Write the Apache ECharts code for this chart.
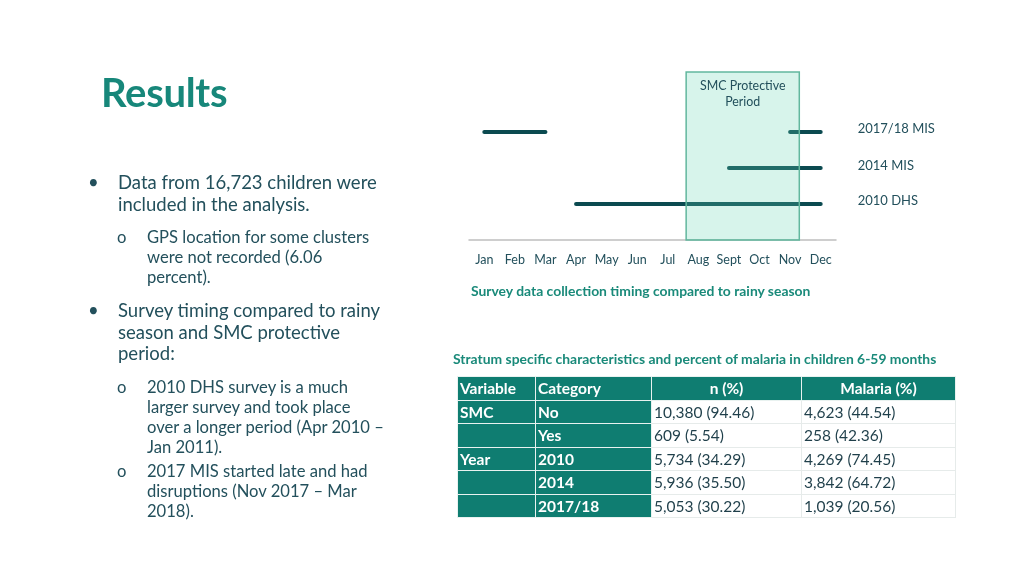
<!DOCTYPE html>
<html><head><meta charset="utf-8">
<script src="https://cdn.jsdelivr.net/npm/echarts@6/dist/echarts.min.js"></script>
<style>
html,body{margin:0;padding:0;background:#fff;}
#wrap{position:relative;width:1024px;height:576px;overflow:hidden;font-family:Lato,"Open Sans",sans-serif;}
#chart{position:absolute;left:0;top:0;width:1024px;height:576px;}
.t{position:absolute;white-space:nowrap;color:#23505c;}
#title{left:101px;top:68px;font-size:40px;font-weight:bold;color:#17877a;letter-spacing:-0.3px;}
.b1{font-size:18.5px;line-height:21.5px;}
.b2{font-size:16.6px;line-height:20px;}
.cap{font-size:13.9px;font-weight:bold;color:#1a8a7a;}
#tbl{position:absolute;left:457px;top:376px;border-collapse:collapse;font-size:15.5px;}
#tbl td{border:1.5px solid #e6ebea;padding:0 2px;height:22px;color:#1f3f4a;white-space:nowrap;box-sizing:border-box;}
#tbl tr{height:23.5px;}
#tbl td.k{background:#0f7d71;color:#fff;font-weight:bold;border-color:#e9f2f0;}
#tbl tr.h td{background:#0f7d71;color:#fff;font-weight:bold;border-color:#e9f2f0;}
#tbl tr.h td.c{text-align:center;}
</style></head>
<body><div id="wrap">
<div id="chart"></div>
<div id="title" class="t">Results</div>
<div id="text"></div>
<div class="t cap" style="left:471px;top:282px;">Survey data collection timing compared to rainy season</div>
<div class="t cap" style="left:453px;top:350px;">Stratum specific characteristics and percent of malaria in children 6-59 months</div>
<table id="tbl"></table>
</div>
<script>
// ---- data ----
const months = ['Jan','Feb','Mar','Apr','May','Jun','Jul','Aug','Sept','Oct','Nov','Dec'];
const surveyNames = ['2010 DHS','2014 MIS','2017/18 MIS'];
const surveyRow = [1, 2, 3];
const dhs2010Months = [4, 12];
const mis2014Months = [9, 12];
const mis2017PartA = [1, 3];
const mis2017PartB = [11, 12];
const smcPeriod = [7.6, 11.3];
const tableHeader = ['Variable','Category','n (%)','Malaria (%)'];
const tableVariable = ['SMC','','Year','',''];
const tableCategory = ['No','Yes','2010','2014','2017/18'];
const tableN = ['10,380 (94.46)','609 (5.54)','5,734 (34.29)','5,936 (35.50)','5,053 (30.22)'];
const tableMalaria = ['4,623 (44.54)','258 (42.36)','4,269 (74.45)','3,842 (64.72)','1,039 (20.56)'];

// ---- slide text ----
const textBlocks = [
  {cls:'b1', x:118, bx:88, y:172, bullet:'•', lines:['Data from 16,723 children were','included in the analysis.']},
  {cls:'b2', x:147, bx:117, y:227, bullet:'o', lines:['GPS location for some clusters','were not recorded (6.06','percent).']},
  {cls:'b1', x:118, bx:88, y:300, bullet:'•', lines:['Survey timing compared to rainy','season and SMC protective','period:']},
  {cls:'b2', x:147, bx:117, y:377, bullet:'o', lines:['2010 DHS survey is a much','larger survey and took place','over a longer period (Apr 2010 –','Jan 2011).']},
  {cls:'b2', x:147, bx:117, y:461, bullet:'o', lines:['2017 MIS started late and had','disruptions (Nov 2017 – Mar','2018).']}
];
let html='';
textBlocks.forEach(b=>{
  html += `<div class="t ${b.cls}" style="left:${b.bx}px;top:${b.y}px;">${b.bullet}</div>`;
  html += `<div class="t ${b.cls}" style="left:${b.x}px;top:${b.y}px;">${b.lines.join('<br>')}</div>`;
});
document.getElementById('text').innerHTML = html;

// ---- table ----
const colW = [78,116,150,154];
let th = '<tr class="h">' + tableHeader.map((h,i)=>`<td class="${i>1?'c':''}" style="width:${colW[i]}px">${h}</td>`).join('') + '</tr>';
for(let i=0;i<tableCategory.length;i++){
  th += `<tr><td class="k">${tableVariable[i]}</td><td class="k">${tableCategory[i]}</td><td>${tableN[i]}</td><td>${tableMalaria[i]}</td></tr>`;
}
document.getElementById('tbl').innerHTML = th;

// ---- chart ----
const lineColor = '#0b4a50';
const labelColor = '#23505c';
const ff = 'Lato, "Open Sans", sans-serif';
function seg(range,row){ return [[range[0],row],[range[1],row]]; }
function lineSeries(name,data,label,offsetY){
  return {
    name:name, type:'line', data:data, symbol:'none', z:2,
    lineStyle:{color:lineColor,width:4,cap:'round'},
    endLabel: label ? {show:true,formatter:name.trim(),color:labelColor,fontSize:13,
      fontFamily:ff,distance:37,offset:[0,offsetY]} : {show:false},
    animation:false
  };
}
const chart = echarts.init(document.getElementById('chart'));
chart.setOption({
  animation:false,
  grid:{left:469,right:188,top:72,bottom:336},
  xAxis:{type:'value',min:0.5,max:12.5,
    axisLine:{show:true,lineStyle:{color:'#bfbfbf',width:1.5}},
    axisTick:{show:false},splitLine:{show:false},
    axisLabel:{customValues:months.map((m,i)=>i+1),formatter:v=>months[Math.round(v)-1],
      color:labelColor,fontSize:12.5,margin:13,fontFamily:ff}},
  yAxis:{type:'value',min:0,max:4.667,show:false},
  series:[
    lineSeries(surveyNames[0],seg(dhs2010Months,surveyRow[0]),true,-3),
    lineSeries(surveyNames[1],seg(mis2014Months,surveyRow[1]),true,-2),
    lineSeries(surveyNames[2],seg(mis2017PartA,surveyRow[2]),false,0),
    lineSeries(surveyNames[2]+' ',seg(mis2017PartB,surveyRow[2]),true,-3),
    {
      type:'custom', z:5, data:[[smcPeriod[0],smcPeriod[1]]], animation:false,
      renderItem:function(params,api){
        const p0 = api.coord([api.value(0),4.667]);
        const p1 = api.coord([api.value(1),0]);
        return {type:'group',children:[
          {type:'rect',shape:{x:p0[0],y:p0[1],width:p1[0]-p0[0],height:p1[1]-p0[1]},
           style:{fill:'rgba(95,211,176,0.25)',stroke:'#62b89e',lineWidth:1.5}},
          {type:'text',style:{text:'SMC Protective\nPeriod',x:(p0[0]+p1[0])/2,y:p0[1]+6,
            align:'center',verticalAlign:'top',fontSize:12.4,lineHeight:16,fill:labelColor,
            fontFamily:ff}}
        ]};
      }
    }
  ]
});
</script>
</body></html>
